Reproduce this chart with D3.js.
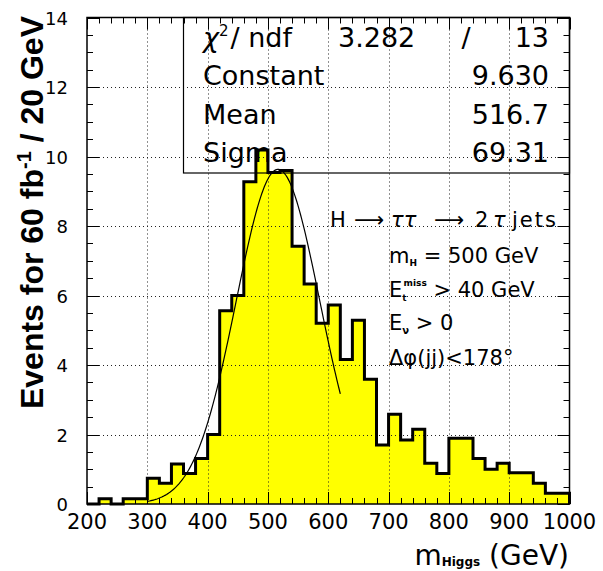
<!DOCTYPE html>
<html>
<head>
<meta charset="utf-8">
<script src="https://cdn.jsdelivr.net/npm/d3@7"></script>
<style>
  body { margin: 0; background: #fff; }
  svg { display: block; }
</style>
</head>
<body>
<div id="chart"></div>
<script>
// histogram contents, 20 GeV bins from 200 to 1000
var binStart = 200;
var binWidth = 20;
var counts = [0, 0.15, 0, 0.15, 0.15, 0.74, 0.6, 1.15, 0.88, 1.31,
              2.0, 5.56, 6.0, 9.27, 10.19, 9.54, 9.6, 7.42, 6.33, 5.2,
              5.73, 4.16, 5.29, 3.59, 1.7, 2.58, 1.84, 2.15, 1.17, 0.88,
              1.89, 1.89, 1.31, 1.0, 1.17, 0.9, 0.9, 0.6, 0.31, 0.31];

var xTickLabels = [200, 300, 400, 500, 600, 700, 800, 900, 1000];
var yTickLabels = [0, 2, 4, 6, 8, 10, 12, 14];

// gaussian fit as printed in the stat box
var fitConstant = 9.630;
var fitMean = 516.7;
var fitSigma = 69.31;
var fitRange = [300, 620];
var chi2 = "3.282";
var ndf = "13";
var statNames = ["Constant", "Mean", "Sigma"];
var statValues = ["9.630", "516.7", "69.31"];

var W = 603, H = 571;
var frameL = 87, frameR = 569.5, frameT = 17.5, frameB = 504;

var svg = d3.select('#chart').append('svg').attr('width', W).attr('height', H);

var x = d3.scaleLinear().domain([200, 1000]).range([frameL, frameR]);
var y = d3.scaleLinear().domain([0, 14]).range([frameB, frameT]);

// step points: baseline, each bin, back to baseline
var pts = [[binStart, 0]];
counts.forEach(function(c, i){ pts.push([binStart + i*binWidth, c]); });
pts.push([binStart + counts.length*binWidth, counts[counts.length-1]]);
pts.push([binStart + counts.length*binWidth, 0]);

var area = d3.area().curve(d3.curveStepAfter)
    .x(function(d){ return x(d[0]); })
    .y0(y(0))
    .y1(function(d){ return y(d[1]); });
var line = d3.line().curve(d3.curveStepAfter)
    .x(function(d){ return x(d[0]); })
    .y(function(d){ return y(d[1]); });

svg.append('path').datum(pts).attr('fill', '#ffff00').attr('d', area);

// dotted grid
var grid = svg.append('g').attr('stroke', '#222').attr('stroke-width', 1).attr('stroke-dasharray', '1,3');
grid.selectAll('.gx').data(xTickLabels.slice(1, -1)).enter().append('line')
    .attr('x1', function(d){ return Math.round(x(d))+0.5; }).attr('x2', function(d){ return Math.round(x(d))+0.5; })
    .attr('y1', frameT).attr('y2', frameB);
grid.selectAll('.gy').data(yTickLabels.slice(1, -1)).enter().append('line')
    .attr('y1', function(d){ return Math.round(y(d))+0.5; }).attr('y2', function(d){ return Math.round(y(d))+0.5; })
    .attr('x1', frameL).attr('x2', frameR);

svg.append('path').datum(pts).attr('fill', 'none').attr('stroke', '#000')
    .attr('stroke-width', 3).attr('stroke-linejoin', 'miter').attr('d', line);

// ticks on all four sides, pointing in
var ticks = svg.append('g').attr('stroke', '#000').attr('stroke-width', 1);
d3.range(200, 1000.1, 20).forEach(function(v){
    var len = (v % 100 === 0) ? 12 : 6;
    var px = Math.round(x(v)) + 0.5;
    ticks.append('line').attr('x1', px).attr('x2', px).attr('y1', frameB).attr('y2', frameB - len);
    ticks.append('line').attr('x1', px).attr('x2', px).attr('y1', frameT).attr('y2', frameT + len);
});
d3.range(0, 14.01, 0.5).forEach(function(v){
    var len = (v % 2 === 0) ? 12 : 6;
    var py = Math.round(y(v)) + 0.5;
    ticks.append('line').attr('y1', py).attr('y2', py).attr('x1', frameL).attr('x2', frameL + len);
    ticks.append('line').attr('y1', py).attr('y2', py).attr('x1', frameR).attr('x2', frameR - len);
});

svg.append('rect').attr('x', frameL).attr('y', frameT).attr('width', frameR-frameL).attr('height', frameB-frameT)
    .attr('fill', 'none').attr('stroke', '#000').attr('stroke-width', 1.5);

// fit curve
var fitPts = d3.range(fitRange[0], fitRange[1] + 0.01, 2).map(function(m){
    return [m, fitConstant * Math.exp(-0.5 * Math.pow((m - fitMean)/fitSigma, 2))];
});
svg.append('path').datum(fitPts).attr('fill', 'none').attr('stroke', '#000').attr('stroke-width', 1.2)
    .attr('d', d3.line().x(function(d){ return x(d[0]); }).y(function(d){ return y(d[1]); }));

// tick labels
svg.append('g').selectAll('text').data(xTickLabels).enter().append('text')
    .attr('x', function(d){ return x(d); }).attr('y', 529)
    .attr('text-anchor', 'middle').attr('font-family', 'DejaVu Sans').attr('font-size', 21)
    .text(function(d){ return d; });
svg.append('g').selectAll('text').data(yTickLabels).enter().append('text')
    .attr('x', 68).attr('y', function(d){ return y(d) + 7; })
    .attr('text-anchor', 'end').attr('font-family', 'DejaVu Sans').attr('font-size', 18)
    .text(function(d){ return d; });

// axis titles
var yt = svg.append('text').attr('transform', 'translate(43,16) rotate(-90)')
    .attr('text-anchor', 'end').attr('font-family', 'Liberation Sans, Arial').attr('font-weight', 'bold')
    .attr('font-size', 32);
yt.append('tspan').text('Events for 60 fb');
yt.append('tspan').attr('font-size', 20).attr('dy', -12).text('-1');
yt.append('tspan').attr('dy', 12).text(' / 20 GeV');

var xt = svg.append('text').attr('x', 569).attr('y', 565).attr('text-anchor', 'end')
    .attr('font-family', 'DejaVu Sans').attr('font-size', 28);
xt.append('tspan').text('m');
xt.append('tspan').attr('font-size', 12).attr('font-weight', 'bold').attr('dy', 1).text('Higgs');
xt.append('tspan').attr('dy', -1).text(' (GeV)');

// stat box
svg.append('rect').attr('x', 183.5).attr('y', frameT).attr('width', frameR - 183.5).attr('height', 173 - frameT)
    .attr('fill', 'none').attr('stroke', '#000').attr('stroke-width', 1.2);
var stat = svg.append('g').attr('font-family', 'DejaVu Sans').attr('font-size', 27);
var r1 = stat.append('text').attr('x', 203).attr('y', 47);
r1.append('tspan').attr('font-style', 'italic').text('χ');
r1.append('tspan').attr('font-size', 15).attr('dy', -11).text('2');
r1.append('tspan').attr('dy', 11).attr('dx', 2).text('/ ndf');
stat.append('text').attr('x', 338).attr('y', 47).text(chi2);
stat.append('text').attr('x', 466).attr('y', 47).attr('text-anchor', 'middle').text('/');
stat.append('text').attr('x', 549).attr('y', 47).attr('text-anchor', 'end').text(ndf);
statNames.forEach(function(n, i){
    var by = 85 + i*38.5;
    stat.append('text').attr('x', 203).attr('y', by).text(n);
    stat.append('text').attr('x', 549).attr('y', by).attr('text-anchor', 'end').text(statValues[i]);
});

// annotation
var ann = svg.append('g').attr('font-family', 'DejaVu Sans').attr('font-size', 21);
var a1 = ann.append('g');
a1.append('text').attr('x', 330).attr('y', 227).text('H');
a1.append('text').attr('x', 354).attr('y', 227).text('⟶');
a1.append('text').attr('x', 391).attr('y', 227).attr('font-style', 'italic').text('ττ');
a1.append('text').attr('x', 434).attr('y', 227).text('⟶');
a1.append('text').attr('x', 475).attr('y', 227).text('2');
a1.append('text').attr('x', 493).attr('y', 227).attr('font-style', 'italic').text('τ');
a1.append('text').attr('x', 512).attr('y', 227).attr('letter-spacing', 2).text('jets');
var a2 = ann.append('text').attr('x', 389).attr('y', 263);
a2.append('tspan').text('m');
a2.append('tspan').attr('font-size', 9).attr('font-weight', 'bold').attr('dy', 3).text('H');
a2.append('tspan').attr('dy', -3).text(' = 500 GeV');
var a3 = ann.append('text').attr('x', 389).attr('y', 297);
a3.append('tspan').text('E');
a3.append('tspan').attr('font-size', 9).attr('font-weight', 'bold').attr('dy', 4).text('t');
a3.append('tspan').attr('font-size', 9).attr('font-weight', 'bold').attr('dx', -3).attr('dy', -15).text('miss');
a3.append('tspan').attr('dy', 11).text(' > 40 GeV');
var a4 = ann.append('text').attr('x', 389).attr('y', 330);
a4.append('tspan').text('E');
a4.append('tspan').attr('font-size', 10).attr('font-weight', 'bold').attr('dy', 4).text('ν');
a4.append('tspan').attr('dy', -4).text(' > 0');
ann.append('text').attr('x', 389).attr('y', 365).text('Δφ(jj)<178°');
</script>
</body>
</html>
